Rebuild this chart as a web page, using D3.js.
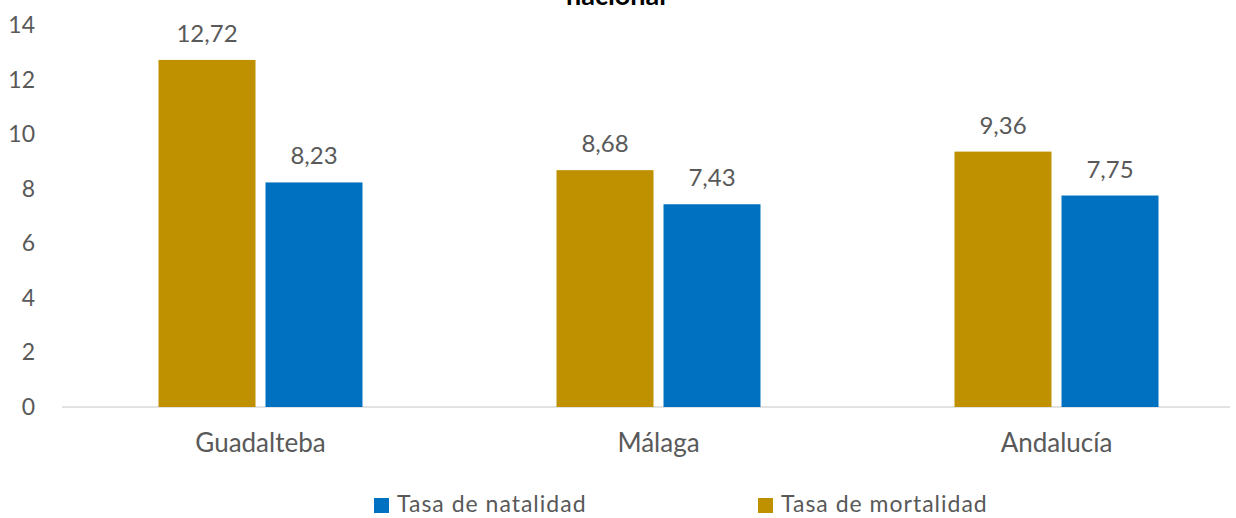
<!DOCTYPE html>
<head>
  <meta charset="utf-8">
  <script src="https://cdn.jsdelivr.net/npm/d3@7"></script>
  <style>
    body { margin: 0; background: #fff; }
    text { font-family: "Source Sans Pro", Lato, "Noto Sans", sans-serif; fill: #595959; }
  </style>
</head>
<body>
  <div id="chartDiv"></div>
  <script>
    var categories = ["Guadalteba", "Málaga", "Andalucía"];
    var mortalidad = [12.72, 8.68, 9.36];
    var natalidad = [8.23, 7.43, 7.75];
    var yTicks = [0, 2, 4, 6, 8, 10, 12, 14];
    var seriesNames = ["Tasa de mortalidad", "Tasa de natalidad"];

    var width = 1236, height = 518;
    var colors = { "Tasa de mortalidad": "#BF9000", "Tasa de natalidad": "#0070C0" };

    var svg = d3.select("#chartDiv").append("svg")
        .attr("width", width)
        .attr("height", height);

    var x = d3.scaleBand()
        .domain(categories)
        .range([61.5, 1255.5]);

    var xInner = d3.scaleBand()
        .domain(seriesNames)
        .range([97, 301])
        .paddingInner(10 / 107);

    var y = d3.scaleLinear()
        .domain([0, 14])
        .range([407, 25]);

    // title (only its last line shows, cut at the top like the original)
    svg.append("text")
        .attr("x", 616)
        .attr("y", 5)
        .attr("text-anchor", "middle")
        .style("font-size", "27px")
        .style("font-weight", "bold")
        .style("fill", "#000")
        .text("nacional");

    // y axis labels
    svg.selectAll("text.ytick")
        .data(yTicks)
      .enter().append("text")
        .attr("class", "ytick")
        .attr("x", 35)
        .attr("y", function(d) { return y(d); })
        .attr("dy", "0.35em")
        .attr("text-anchor", "end")
        .style("font-size", "23px")
        .text(function(d) { return d; });

    // baseline
    svg.append("line")
        .attr("x1", 62).attr("x2", 1230)
        .attr("y1", y(0)).attr("y2", y(0))
        .style("stroke", "#D9D9D9")
        .style("stroke-width", 1.5);

    var rows = categories.map(function(c, i) {
      return { cat: c, values: [
        { name: "Tasa de mortalidad", value: mortalidad[i] },
        { name: "Tasa de natalidad", value: natalidad[i] }
      ]};
    });

    var group = svg.selectAll("g.cat")
        .data(rows)
      .enter().append("g")
        .attr("class", "cat")
        .attr("transform", function(d) { return "translate(" + x(d.cat) + ",0)"; });

    group.selectAll("rect")
        .data(function(d) { return d.values; })
      .enter().append("rect")
        .attr("x", function(d) { return xInner(d.name); })
        .attr("width", xInner.bandwidth())
        .attr("y", function(d) { return y(d.value); })
        .attr("height", function(d) { return y(0) - y(d.value); })
        .style("fill", function(d) { return colors[d.name]; });

    group.selectAll("text.val")
        .data(function(d) { return d.values; })
      .enter().append("text")
        .attr("class", "val")
        .attr("x", function(d) { return xInner(d.name) + xInner.bandwidth() / 2; })
        .attr("y", function(d) { return y(d.value) - 18; })
        .attr("text-anchor", "middle")
        .style("font-size", "24px")
        .text(function(d) { return d.value.toFixed(2).replace(".", ","); });

    group.append("text")
        .attr("x", x.bandwidth() / 2)
        .attr("y", 452)
        .attr("text-anchor", "middle")
        .style("font-size", "26px")
        .text(function(d) { return d.cat; });

    // legend
    var legend = [
      { name: "Tasa de natalidad", x: 374 },
      { name: "Tasa de mortalidad", x: 758 }
    ];
    var lg = svg.selectAll("g.legend")
        .data(legend)
      .enter().append("g")
        .attr("class", "legend")
        .attr("transform", function(d) { return "translate(" + d.x + ",498)"; });
    lg.append("rect")
        .attr("width", 15).attr("height", 15)
        .style("fill", function(d) { return colors[d.name]; });
    lg.append("text")
        .attr("x", 23)
        .attr("y", 14)
        .style("font-size", "23px")
        .style("letter-spacing", "1px")
        .text(function(d) { return d.name; });
  </script>
</body>
